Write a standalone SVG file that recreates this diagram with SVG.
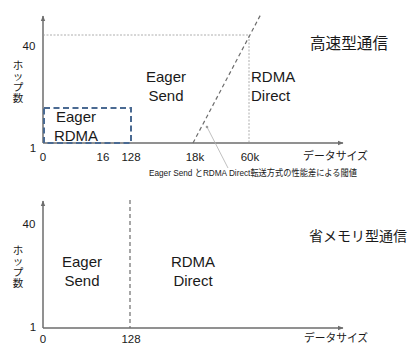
<svg xmlns="http://www.w3.org/2000/svg" width="411" height="345" viewBox="0 0 411 345">
<defs>
<marker id="ah" markerWidth="6" markerHeight="6" refX="5" refY="3" orient="auto" markerUnits="userSpaceOnUse">
<path d="M0,0.8 L5.5,3 L0,5.2 z" fill="#6d6d6d"/>
</marker>
<marker id="dot" markerWidth="4" markerHeight="4" refX="2" refY="2" orient="auto" markerUnits="userSpaceOnUse">
<circle cx="2" cy="2" r="1.3" fill="#9a9a9a"/>
</marker>
</defs>
<style>
.ax{stroke:#6d6d6d;stroke-width:1.5;fill:none}
.dot{stroke:#9a9a9a;stroke-width:0.8;stroke-dasharray:2 1.5;fill:none}
.dash{stroke:#6d6d6d;stroke-width:1.2;stroke-dasharray:4 3;fill:none}
.box{stroke:#4a6a92;stroke-width:2;stroke-dasharray:6 3.5;fill:none}
text{font-family:"Liberation Sans","Noto Sans CJK JP",sans-serif;fill:#1a1a1a}
.lbl{font-size:15px;text-anchor:middle}
.lbs{font-size:15px}
.tk{font-size:11.5px;text-anchor:middle}
.ja{font-size:11.5px}
.vt{font-size:10.5px;text-anchor:middle}
.ttl{font-size:15.5px}
.ttl2{font-size:14px}
.note{font-size:9.5px}
</style>
<g id="connectors">
<path class="ax" d="M43,143 V16" marker-end="url(#ah)"/>
<path class="ax" d="M43,143 H343" marker-end="url(#ah)"/>
<path class="dot" d="M43,35 H249 V143"/>
<path class="dash" d="M193,143 L261,14"/>
<path d="M228,168 L207,127" stroke="#b0b0b0" stroke-width="0.8" fill="none" marker-end="url(#dot)"/>
<path class="ax" d="M43,328 V201" marker-end="url(#ah)"/>
<path class="ax" d="M43,328 H343" marker-end="url(#ah)"/>
<path class="dash" d="M130,200 V328"/>
</g>
<g id="eager-rdma-box">
<rect class="box" x="44" y="108" width="87" height="35"/>
<text class="lbl" x="76" y="122">Eager</text>
<text class="lbl" x="76" y="141">RDMA</text>
</g>
<g id="top-labels">
<text class="tk" x="29" y="50">40</text>
<text class="tk" x="33" y="152">1</text>
<text class="tk" x="43" y="161">0</text>
<text class="tk" x="103" y="161">16</text>
<text class="tk" x="131" y="161">128</text>
<text class="tk" x="195" y="161">18k</text>
<text class="tk" x="250" y="161">60k</text>
<text class="ja" x="303" y="160" textLength="65" lengthAdjust="spacingAndGlyphs">データサイズ</text>
<text class="vt" x="18" y="69">ホ</text>
<text class="vt" x="18" y="80">ッ</text>
<text class="vt" x="18" y="91">プ</text>
<text class="vt" x="18" y="102">数</text>
<text class="ttl" x="310" y="49" textLength="78" lengthAdjust="spacingAndGlyphs">高速型通信</text>
<text class="note" x="149" y="176" textLength="208" lengthAdjust="spacingAndGlyphs">Eager Send とRDMA Direct転送方式の性能差による閾値</text>
</g>
<g id="eager-send-top">
<text class="lbl" x="166" y="82">Eager</text>
<text class="lbl" x="166" y="101">Send</text>
</g>
<g id="rdma-direct-top">
<text class="lbs" x="251" y="82">RDMA</text>
<text class="lbs" x="251" y="101">Direct</text>
</g>
<g id="bottom-labels">
<text class="tk" x="29" y="228">40</text>
<text class="tk" x="33" y="331">1</text>
<text class="tk" x="43" y="343">0</text>
<text class="tk" x="131" y="343">128</text>
<text class="ja" x="304" y="342" textLength="64" lengthAdjust="spacingAndGlyphs">データサイズ</text>
<text class="vt" x="18" y="254">ホ</text>
<text class="vt" x="18" y="265">ッ</text>
<text class="vt" x="18" y="276">プ</text>
<text class="vt" x="18" y="287">数</text>
<text class="ttl2" x="309" y="241">省メモリ型通信</text>
</g>
<g id="eager-send-bottom">
<text class="lbl" x="82" y="267">Eager</text>
<text class="lbl" x="82" y="286">Send</text>
</g>
<g id="rdma-direct-bottom">
<text class="lbl" x="193" y="267">RDMA</text>
<text class="lbl" x="193" y="286">Direct</text>
</g>
</svg>
